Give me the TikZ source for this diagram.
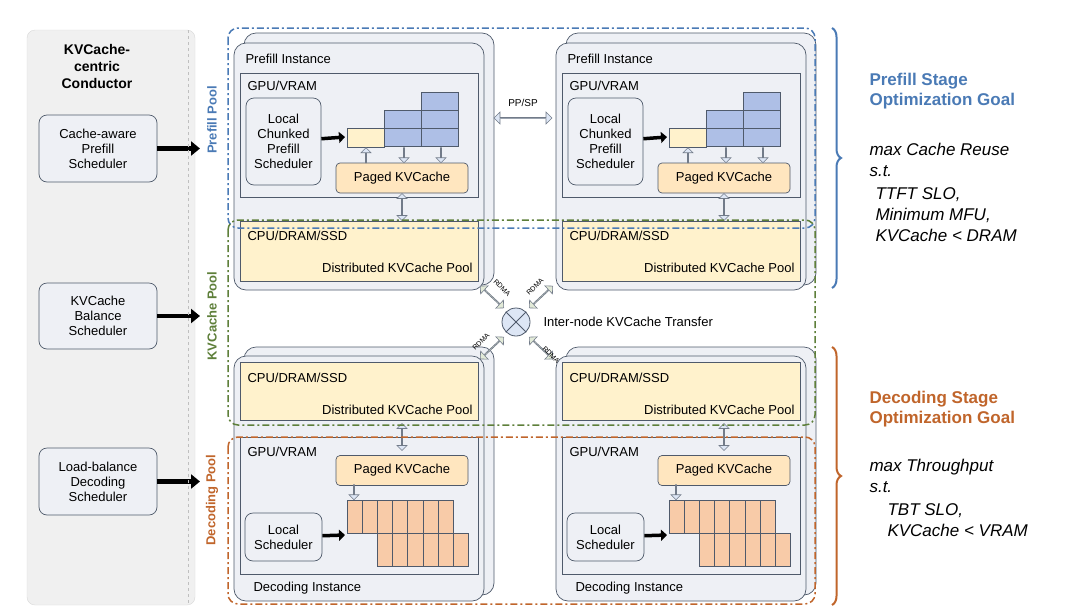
\documentclass[tikz,border=0pt]{standalone}
\usepackage{fontspec}
\setmainfont{Liberation Sans}
\usetikzlibrary{arrows.meta,shapes.arrows,decorations.pathreplacing,positioning}
\definecolor{poolblue}{HTML}{4A7AB5}
\definecolor{poolgreen}{HTML}{5E7F3A}
\definecolor{poolorange}{HTML}{C0652B}
\definecolor{cardfill}{HTML}{EEF0F5}
\definecolor{cardline}{HTML}{4F5A6B}
\definecolor{kvyellow}{HTML}{FFF2CC}
\definecolor{kvblue}{HTML}{AEBFE6}
\definecolor{kvorange}{HTML}{F8CBA8}
\definecolor{arrfill}{HTML}{DDE6F5}
\definecolor{rdmafill}{HTML}{E2EAD8}
\tikzset{
  every node/.style={font=\fontsize{13}{15}\selectfont},
  card/.style={draw=cardline, fill=cardfill, rounded corners=12pt, line width=0.7pt},
  membox/.style={draw=cardline, line width=0.7pt},
  sched/.style={draw=cardline, fill=cardfill, rounded corners=8pt, align=center, inner sep=2pt, line width=0.7pt},
  paged/.style={draw=cardline, fill=kvyellow!80!orange!70, rounded corners=4pt, minimum width=132pt, minimum height=30pt, line width=0.7pt},
  pool/.style={dash pattern=on 7pt off 3pt on 2pt off 3pt, line width=1.5pt, rounded corners=10pt},
  poollabel/.style={rotate=90, font=\fontsize{13}{15}\selectfont\bfseries},
  bigarrow/.style={-{Triangle[length=9pt,width=14pt]}, line width=4.5pt, black},
  hollow/.style={draw=cardline!80, fill=arrfill, inner sep=0pt, line width=0.6pt},
  rdma/.style={font=\fontsize{7}{8}\selectfont},
  goal/.style={font=\fontsize{17}{20}\selectfont\bfseries, align=left, anchor=north west},
  cond/.style={font=\fontsize{17}{21}\selectfont\itshape, align=left, anchor=north west},
}
\begin{document}
\begin{tikzpicture}[x=1pt,y=-1pt]
\useasboundingbox (0,0) rectangle (1080,606);
% conductor
\draw[fill=black!6, draw=black!15, rounded corners=8pt] (27,30) rectangle (195,605);
\node[font=\fontsize{14}{17}\selectfont\bfseries, align=center] (cond) at (97,66) {KVCache-\\centric\\Conductor};
\node[sched, minimum width=118pt, minimum height=67pt] (caps) at (98,148.5) {Cache-aware\\Prefill\\Scheduler};
\node[sched, minimum width=118pt, minimum height=66pt] (bals) at (98,316) {KVCache\\Balance\\Scheduler};
\node[sched, minimum width=118pt, minimum height=67pt] (decs) at (98,481.5) {Load-balance\\Decoding\\Scheduler};
\coordinate (capsend) at (200,148.5);
\coordinate (balsend) at (200,316);
\coordinate (decsend) at (200,481.5);
\draw[bigarrow] (caps) -- (capsend);
\draw[bigarrow] (bals) -- (balsend);
\draw[bigarrow] (decs) -- (decsend);
\draw[black!25, dashed, line width=0.8pt] (188,30) -- (188,605);

% prefill instances
\foreach \dx/\n in {0/a,322/b}{
  \draw[card] (244+\dx,33) rectangle (494+\dx,285);
  \draw[card] (234+\dx,43) rectangle (484+\dx,290);
  \node[anchor=west] (pin\n) at (242+\dx,59) {Prefill Instance};
  \draw[membox, fill=cardfill] (240+\dx,73) rectangle (478+\dx,197);
  \node[anchor=west] (pgpu\n) at (244+\dx,86) {GPU/VRAM};
  \node[sched, minimum width=75pt, minimum height=87pt] (lcps\n) at (283.5+\dx,141.5) {Local\\Chunked\\Prefill\\Scheduler};
  \draw[membox, fill=kvyellow] (347+\dx,128) rectangle (384+\dx,147);
  \foreach \yy in {110,128} \draw[membox, fill=kvblue] (384+\dx,\yy) rectangle +(37,18.5);
  \foreach \yy in {92,110,128} \draw[membox, fill=kvblue] (421+\dx,\yy) rectangle +(37,18.5);
  \coordinate (pgrid\n) at (345+\dx,137);
  \draw[-{Triangle[length=6pt,width=11pt]}, line width=3.5pt] (lcps\n) -- (pgrid\n);
  \node[paged] (ppkv\n) at (402+\dx,178) {Paged KVCache};
  \node[hollow, single arrow, rotate=90, minimum height=15pt, minimum width=10pt, single arrow head extend=2.5pt] at (366+\dx,155.5) {};
  \node[hollow, single arrow, rotate=-90, minimum height=15pt, minimum width=10pt, single arrow head extend=2.5pt] at (404+\dx,155) {};
  \node[hollow, single arrow, rotate=-90, minimum height=15pt, minimum width=10pt, single arrow head extend=2.5pt] at (441+\dx,155) {};
  \draw[membox, fill=kvyellow] (240+\dx,221) rectangle (478+\dx,281);
  \node[anchor=west] (pcpu\n) at (244+\dx,236) {CPU/DRAM/SSD};
  \node[anchor=east] (pdist\n) at (476+\dx,268) {Distributed KVCache Pool};
  \node[hollow, double arrow, rotate=90, minimum height=27pt, minimum width=10pt, double arrow head extend=2.5pt] at (402+\dx,207) {};
}
% decoding instances
\foreach \dx/\n in {0/a,322/b}{
  \draw[card] (244+\dx,347) rectangle (494+\dx,595);
  \draw[card] (234+\dx,356) rectangle (484+\dx,601);
  \draw[membox, fill=kvyellow] (240+\dx,362) rectangle (478+\dx,420);
  \node[anchor=west] (dcpu\n) at (244+\dx,378) {CPU/DRAM/SSD};
  \node[anchor=east] (ddist\n) at (476+\dx,410) {Distributed KVCache Pool};
  \draw[membox, fill=cardfill] (240+\dx,437) rectangle (478+\dx,574);
  \node[anchor=west] (dgpu\n) at (244+\dx,452) {GPU/VRAM};
  \node[paged] (dpkv\n) at (402+\dx,470.5) {Paged KVCache};
  \node[hollow, single arrow, rotate=-90, minimum height=15pt, minimum width=10pt, single arrow head extend=2.5pt] at (354+\dx,492) {};
  \foreach \i in {0,...,6} \draw[membox, fill=kvorange] (347+\i*15.2+\dx,500) rectangle +(15.2,33);
  \foreach \i in {0,...,5} \draw[membox, fill=kvorange] (377.4+\i*15.2+\dx,533) rectangle +(15.2,33);
  \node[sched, minimum width=77pt, minimum height=48pt] (ls\n) at (283.5+\dx,537) {Local\\Scheduler};
  \coordinate (dgrid\n) at (345+\dx,535);
  \draw[-{Triangle[length=6pt,width=11pt]}, line width=3.5pt] (ls\n) -- (dgrid\n);
  \node[anchor=west] (din\n) at (250+\dx,588) {Decoding Instance};
  \node[hollow, double arrow, rotate=90, minimum height=27pt, minimum width=10pt, double arrow head extend=2.5pt] at (402+\dx,437) {};
}

% pools
\draw[pool, poolblue] (228,28) rectangle (815,228);
\draw[pool, poolgreen] (228,220) rectangle (815,425);
\draw[pool, poolorange] (228,437) rectangle (815,604);
\node[poollabel, poolblue] (ppool) at (212,120) {Prefill Pool};
\node[poollabel, poolgreen] (kpool) at (212,316) {KVCache Pool};
\node[poollabel, poolorange] (dpool) at (212,500) {Decoding Pool};

% PP/SP and transfer
\node[hollow, double arrow, minimum height=58pt, minimum width=12pt, double arrow head extend=3pt] (ppsp) at (523,118) {};
\node[font=\fontsize{10}{12}\selectfont] at (523,103) {PP/SP};
\node[circle, draw=cardline, fill=arrfill, minimum size=28pt, inner sep=0pt, line width=0.8pt] (xfer) at (516,322) {};
\draw[cardline, line width=0.8pt] (xfer.north west) -- (xfer.south east) (xfer.north east) -- (xfer.south west);
\node[anchor=west] at (540,322) {Inter-node KVCache Transfer};
\foreach \px/\py/\ang in {492/297/-43, 541/297/43, 492/348/43, 541/348/-43}
  \node[hollow, fill=rdmafill, double arrow, rotate=\ang, minimum height=32pt, minimum width=11pt, double arrow head extend=2.5pt] at (\px,\py) {};
\node[rdma, rotate=-45] at (502,288) {RDMA};
\node[rdma, rotate=45] at (535,287) {RDMA};
\node[rdma, rotate=45] at (481,342) {RDMA};
\node[rdma, rotate=-45] at (551,355) {RDMA};

% goals
\draw[decorate, decoration={brace, amplitude=9pt}, poolblue, line width=2pt] (832,28) -- (832,288);
\draw[decorate, decoration={brace, amplitude=9pt}, poolorange, line width=2pt] (832,347) -- (832,605);
\node[goal, poolblue] (pgoal) at (866,70) {Prefill Stage\\Optimization Goal};
\node[cond] (pcond) at (866,140) {max Cache Reuse\\s.t.\\[2pt]\hspace{6pt}TTFT SLO,\\\hspace{6pt}Minimum MFU,\\\hspace{6pt}KVCache < DRAM};
\node[goal, poolorange] (dgoal) at (866,388) {Decoding Stage\\Optimization Goal};
\node[cond] (dcond) at (866,456) {max Throughput\\s.t.\\[2pt]\hspace{18pt}TBT SLO,\\\hspace{18pt}KVCache < VRAM};
\end{tikzpicture}
\end{document}
